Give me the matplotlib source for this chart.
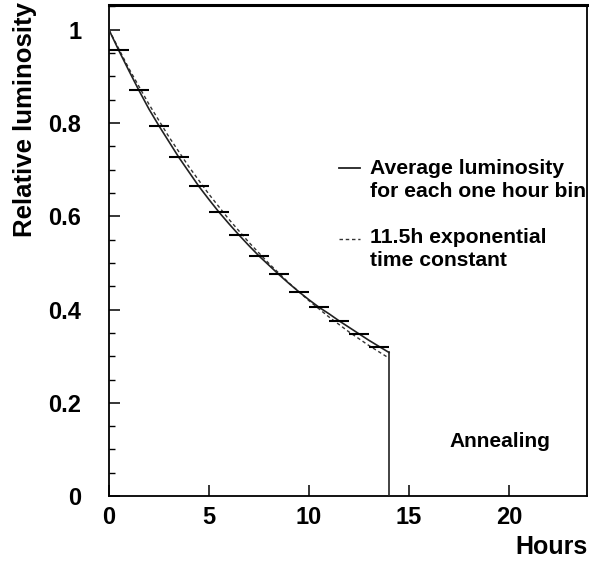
import numpy as np
import matplotlib
matplotlib.use("Agg")
import matplotlib.pyplot as plt
from matplotlib.ticker import MultipleLocator, FixedLocator

plt.rcParams['font.family'] = ['Liberation Sans', 'DejaVu Sans']
plt.rcParams['font.weight'] = 'bold'

# Measured luminosity (relative) sampled every half hour over the 14 h fill
t_curve = [0.0, 0.5, 1.0, 1.5, 2.0, 2.5, 3.0, 3.5, 4.0, 4.5, 5.0, 5.5, 6.0, 6.5,
           7.0, 7.5, 8.0, 8.5, 9.0, 9.5, 10.0, 10.5, 11.0, 11.5, 12.0, 12.5,
           13.0, 13.5, 14.0]
lum_curve = [1.000, 0.955, 0.912, 0.870, 0.830, 0.794, 0.760, 0.726, 0.695, 0.664,
             0.636, 0.609, 0.584, 0.560, 0.537, 0.515, 0.495, 0.475, 0.456, 0.438,
             0.421, 0.405, 0.391, 0.376, 0.362, 0.348, 0.334, 0.321, 0.308]

# Average luminosity in each one-hour bin
bin_edges = [0, 1, 2, 3, 4, 5, 6, 7, 8, 9, 10, 11, 12, 13, 14]
bin_avg = [0.957, 0.871, 0.794, 0.727, 0.665, 0.609, 0.560, 0.515, 0.476,
           0.438, 0.406, 0.376, 0.348, 0.320]

# 11.5 h exponential time constant, exp(-t/11.5) tabulated hourly
t_exp = [0, 1, 2, 3, 4, 5, 6, 7, 8, 9, 10, 11, 12, 13, 14]
lum_exp = [1.0000, 0.9167, 0.8403, 0.7703, 0.7061, 0.6473, 0.5934, 0.5440,
           0.4987, 0.4571, 0.4190, 0.3841, 0.3521, 0.3228, 0.2959]

end_of_fill = 14

x_ticks = [0, 5, 10, 15, 20]
y_ticks = [0, 0.2, 0.4, 0.6, 0.8, 1.0]
y_ticklabels = ['0', '0.2', '0.4', '0.6', '0.8', '1']

fig = plt.figure(figsize=(5.89, 5.65), dpi=100)
ax = fig.add_axes([0.185, 0.122, 0.8115, 0.869])

ax.plot(t_curve, lum_curve, color='#222222', lw=1.2, zorder=3)
ax.plot([end_of_fill, end_of_fill], [0, lum_curve[-1]], color='#222222', lw=1.2, zorder=3)
ax.plot(t_exp, lum_exp, color='#333333', lw=1.0, ls=(0, (2.5, 2)), zorder=2)
ax.hlines(bin_avg, bin_edges[:-1], bin_edges[1:], color='black', lw=1.5, zorder=4)

ax.set_xlim(0, 23.9)
ax.set_ylim(0, 1.053)

ax.xaxis.set_major_locator(FixedLocator(x_ticks))
ax.yaxis.set_major_locator(FixedLocator(y_ticks))
ax.yaxis.set_minor_locator(MultipleLocator(0.05))
ax.set_yticklabels(y_ticklabels)
ax.set_xticklabels([str(v) for v in x_ticks])

ax.tick_params(axis='both', which='major', direction='in', length=8, width=1.1,
               labelsize=17)
ax.tick_params(axis='y', which='major', pad=20)
ax.tick_params(axis='x', which='major', pad=7)
ax.tick_params(axis='y', which='minor', direction='in', length=4.5, width=1.0)
ax.tick_params(top=False, right=False)
for lab in ax.get_xticklabels() + ax.get_yticklabels():
    lab.set_fontweight('bold')

for side in ['left', 'bottom', 'right']:
    ax.spines[side].set_linewidth(1.3)
ax.spines['top'].set_linewidth(2.2)

fig.text(0.043, 0.788, 'Relative luminosity', fontsize=18.5, fontweight='bold',
         rotation=90, ha='center', va='center')
fig.text(0.997, 0.032, 'Hours', fontsize=18, fontweight='bold', ha='right', va='center')

# legend entries
ax.plot([11.5, 12.55], [0.704, 0.704], color='#222222', lw=1.3)
ax.text(13.05, 0.702, 'Average luminosity', fontsize=15.2, fontweight='bold',
        va='center', ha='left')
ax.text(13.05, 0.653, 'for each one hour bin', fontsize=15.2, fontweight='bold',
        va='center', ha='left')
ax.plot([11.5, 12.55], [0.551, 0.551], color='#333333', lw=1.0, ls=(0, (2.5, 2)))
ax.text(13.05, 0.554, '11.5h exponential', fontsize=15.2, fontweight='bold',
        va='center', ha='left')
ax.text(13.05, 0.505, 'time constant', fontsize=15.2, fontweight='bold',
        va='center', ha='left')

ax.text(19.55, 0.116, 'Annealing', fontsize=15, fontweight='bold', ha='center', va='center')

fig.savefig('out.png', dpi=100)
